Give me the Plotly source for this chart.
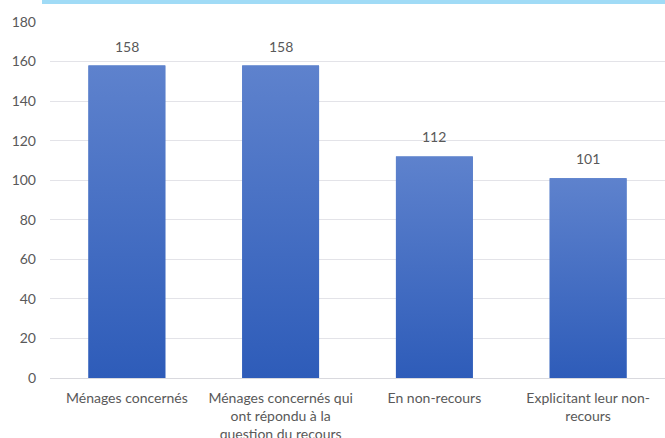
import plotly.graph_objects as go

categories = [
    "Ménages concernés",
    "Ménages concernés qui<br>ont répondu à la<br>question du recours",
    "En non-recours",
    "Explicitant leur non-<br>recours",
]
values = [158, 158, 112, 101]
y_ticks = [0, 20, 40, 60, 80, 100, 120, 140, 160, 180]

BAR_W = 0.5
TOP_C = "#5e82cd"
BOT_C = "#2e5cb9"
TXT = "#595959"
FONT = "Lato"
FS = 14

fig = go.Figure()
xs = list(range(len(categories)))

# base bars
fig.add_trace(go.Bar(
    x=xs, y=values, width=BAR_W,
    marker=dict(color="#4472c4", line=dict(width=0)),
    hoverinfo="y", showlegend=False,
))

# gradient overlay per bar (same geometry as the bars)
for i, v in zip(xs, values):
    fig.add_trace(go.Scatter(
        x=[i - BAR_W / 2, i + BAR_W / 2, i + BAR_W / 2, i - BAR_W / 2, i - BAR_W / 2],
        y=[0, 0, v, v, 0],
        mode="lines", fill="toself",
        line=dict(width=0),
        fillgradient=dict(type="vertical", colorscale=[[0, BOT_C], [1, TOP_C]]),
        hoverinfo="skip", showlegend=False,
    ))

for i, v in zip(xs, values):
    fig.add_annotation(
        x=i, y=v, text=str(v), showarrow=False, yanchor="bottom", yshift=9,
        font=dict(family=FONT, size=FS, color=TXT),
    )

fig.add_shape(type="rect", xref="paper", yref="paper",
              x0=-0.013, x1=1.1, y0=1.0506, y1=1.2,
              fillcolor="#a0dbf6", line=dict(width=0), layer="below")

fig.update_layout(
    width=665, height=438,
    margin=dict(l=50, r=0, t=22, b=60),
    paper_bgcolor="white", plot_bgcolor="white",
    font=dict(family=FONT, size=FS, color=TXT),
    xaxis=dict(
        range=[-0.5, 3.5], tickvals=xs, ticktext=categories,
        showgrid=False, zeroline=False, showline=False, ticks="",
        ticklabelstandoff=10,
        tickfont=dict(family=FONT, size=FS, color=TXT), fixedrange=True,
        automargin=False,
    ),
    yaxis=dict(
        range=[0, 180], tickvals=y_ticks,
        showgrid=True, gridcolor="#e3e3e8", gridwidth=1,
        zeroline=True, zerolinecolor="#d9d9de", zerolinewidth=1,
        ticks="", ticklabelstandoff=13,
        tickfont=dict(family=FONT, size=FS, color=TXT), fixedrange=True,
        automargin=False,
    ),
    bargap=0.5,
)

fig.write_html("out.html", config={"displayModeBar": False},
               post_script="document.body.style.margin='0';")
